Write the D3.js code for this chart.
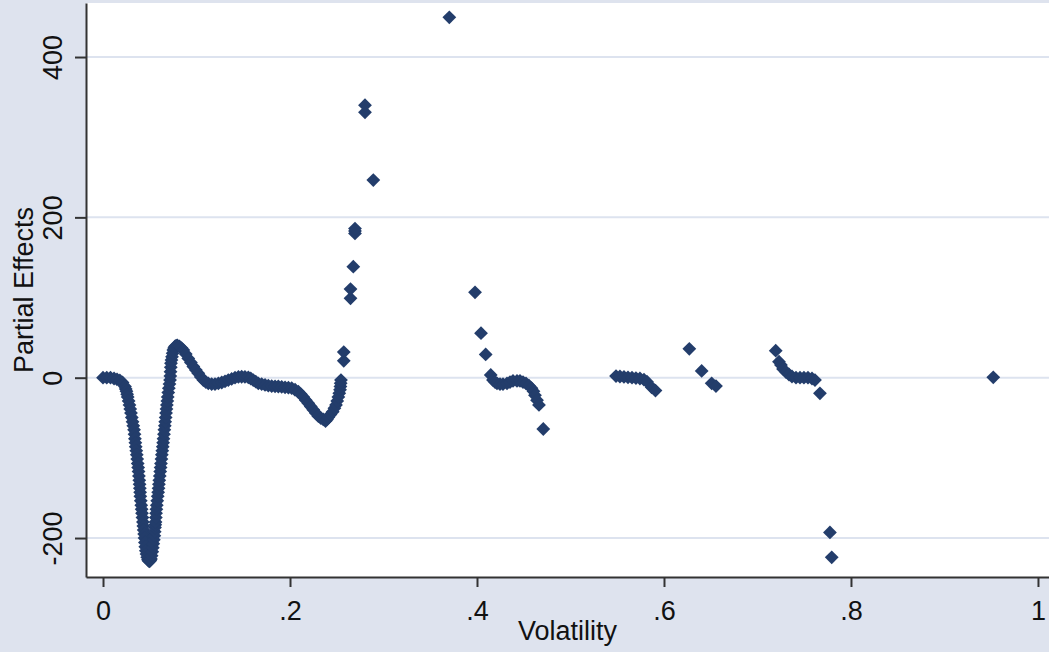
<!DOCTYPE html>
<html>
<head>
<meta charset="utf-8">
<script src="https://cdn.jsdelivr.net/npm/d3@7"></script>
<style>
  body { margin: 0; background: #dee3ee; }
  .chart text { font-family: "Liberation Sans", Arial, sans-serif; fill: #111; }
</style>
</head>
<body>
<div class="chart"></div>
<script>
var svgWidth = 1049;
var svgHeight = 652;

var margin = {
  top: 3,
  right: 0,
  bottom: 75,
  left: 86
};

var width = svgWidth - margin.left - margin.right;
var height = svgHeight - margin.top - margin.bottom;

// tick values / labels (Stata style, no leading zero)
var xTicks = [0, 0.2, 0.4, 0.6, 0.8, 1];
var xTickLabels = ["0", ".2", ".4", ".6", ".8", "1"];
var yTicks = [-200, 0, 200, 400];
var yTickLabels = ["-200", "0", "200", "400"];

// [volatility, partial effect] - the dense curve at low volatility
var lowVolCurve = [
  [0, 0], [0.004, 0], [0.008, 0], [0.0118, -1], [0.015, -2], [0.018, -3.5], [0.0209, -6],
  [0.0235, -11], [0.0243, -14], [0.0251, -17], [0.0258, -20.5], [0.0264, -24], [0.0274, -29],
  [0.0283, -34], [0.0291, -39], [0.0299, -44], [0.0308, -49.5], [0.0316, -55], [0.0324, -60],
  [0.0332, -65], [0.0337, -70.5], [0.0341, -76], [0.0346, -81], [0.035, -86], [0.0356, -91],
  [0.0361, -96], [0.0366, -101.5], [0.0371, -107], [0.0376, -112], [0.038, -117], [0.0384, -122.5],
  [0.0388, -128], [0.0391, -133], [0.0394, -138], [0.0397, -143], [0.0399, -148], [0.0404, -153.5],
  [0.0409, -159], [0.0413, -164], [0.0417, -169], [0.0422, -174.5], [0.0427, -180], [0.0431, -185],
  [0.0435, -190], [0.044, -195], [0.0444, -200], [0.0448, -205.5], [0.0452, -211], [0.0458, -216],
  [0.0465, -220], [0.0473, -224], [0.0481, -227], [0.0489, -228.5], [0.0497, -229], [0.0505, -228],
  [0.0513, -226], [0.052, -222], [0.0527, -217], [0.0533, -212], [0.0538, -207], [0.0544, -202],
  [0.0549, -197], [0.0553, -192], [0.0556, -187], [0.0559, -183.5], [0.0562, -180], [0.0565, -174.5],
  [0.0567, -169], [0.0571, -164], [0.0575, -159], [0.058, -153.5], [0.0585, -148], [0.059, -143],
  [0.0594, -138], [0.0598, -133], [0.0602, -128], [0.0607, -122.5], [0.0612, -117], [0.0616, -112],
  [0.062, -107], [0.0625, -101.5], [0.0629, -96], [0.0634, -91], [0.0639, -86], [0.0643, -81],
  [0.0647, -76], [0.0652, -70.5], [0.0656, -65], [0.0661, -60], [0.0665, -55], [0.067, -49.5],
  [0.0674, -44], [0.0679, -39], [0.0683, -34], [0.0688, -29], [0.0692, -24], [0.0698, -18.5],
  [0.0704, -13], [0.0711, -8], [0.0717, -3], [0.072, 2], [0.0722, 7.5], [0.0725, 13],
  [0.0727, 18], [0.0732, 22], [0.0738, 26], [0.0745, 30.5], [0.0752, 34.5], [0.0761, 37],
  [0.077, 39], [0.0782, 40], [0.0795, 40.4], [0.0818, 39], [0.084, 37], [0.0859, 34.5],
  [0.0885, 29.5], [0.0912, 24], [0.094, 19], [0.0966, 14], [0.0993, 9.5], [0.1019, 5.5],
  [0.1046, 1], [0.1073, -3], [0.11, -5.5], [0.1126, -7], [0.1162, -8], [0.1198, -8],
  [0.1234, -7], [0.127, -6], [0.1305, -4.5], [0.134, -3], [0.1376, -1.5], [0.1412, 0],
  [0.1448, 1], [0.1483, 1.2], [0.1518, 1], [0.1554, 0.5], [0.158, -1], [0.1607, -3],
  [0.1634, -5], [0.1661, -7], [0.1697, -8], [0.1733, -9], [0.1768, -10], [0.1804, -10.4],
  [0.184, -10.8], [0.1875, -11], [0.1911, -11.5], [0.1947, -12], [0.1983, -12.5], [0.2018, -13],
  [0.2054, -15], [0.2089, -17.5], [0.2116, -20.5], [0.2142, -24], [0.2169, -28], [0.2196, -32],
  [0.2222, -36], [0.2249, -40], [0.2276, -44], [0.2303, -48], [0.233, -50.5], [0.2356, -52],
  [0.238, -54], [0.2395, -52], [0.241, -49.4], [0.2433, -46], [0.2457, -42.4], [0.2475, -38],
  [0.2492, -34], [0.2505, -29], [0.2517, -24], [0.2527, -19.5], [0.2535, -15], [0.2539, -11],
  [0.2542, -7], [0.2545, -3]
];

// [volatility, partial effect] - sparser points above ~.25
var highVolPoints = [
  [0.2575, 21], [0.2575, 32], [0.2647, 99], [0.2647, 110.5], [0.2677, 138.5],
  [0.2695, 180], [0.2695, 183], [0.2695, 186], [0.2802, 331], [0.2802, 340], [0.2891, 246.5],
  [0.3704, 449.5], [0.3979, 106.5], [0.4043, 55.5], [0.4093, 29],
  [0.4147, 3.4], [0.4171, -3], [0.4193, -5.5], [0.4214, -7], [0.4246, -8], [0.4278, -8],
  [0.4321, -7], [0.4353, -5.5], [0.4385, -4], [0.4428, -4], [0.446, -4], [0.4492, -5.5],
  [0.4524, -7], [0.4556, -10], [0.4583, -13], [0.4604, -17], [0.462, -22], [0.4642, -28],
  [0.4663, -34], [0.4709, -64],
  [0.5487, 2], [0.5529, 1.5], [0.5572, 1], [0.5615, 0.5], [0.5658, 0], [0.57, -0.5],
  [0.5743, -1], [0.5786, -2.5], [0.5818, -5], [0.5868, -12], [0.5909, -16],
  [0.6271, 36], [0.6403, 8.4], [0.651, -7], [0.6556, -10.4],
  [0.7195, 33.7], [0.723, 20], [0.7251, 16], [0.7273, 11], [0.7305, 7], [0.7337, 4],
  [0.7369, 1.5], [0.7412, 0.2], [0.7455, 0], [0.7497, 0], [0.754, 0], [0.7583, -1],
  [0.7615, -3], [0.7668, -19.5], [0.7775, -193], [0.7794, -224],
  [0.9522, 0.5]
];

var allPoints = lowVolCurve.concat(highVolPoints);

var svg = d3.select(".chart")
  .append("svg")
  .attr("width", svgWidth)
  .attr("height", svgHeight);

svg.append("rect")
  .attr("width", svgWidth)
  .attr("height", svgHeight)
  .attr("fill", "#dee3ee");

var chartGroup = svg.append("g")
  .attr("transform", `translate(${margin.left}, ${margin.top})`);

chartGroup.append("rect")
  .attr("width", width)
  .attr("height", height)
  .attr("fill", "#ffffff");

// scales
var xLinearScale = d3.scaleLinear()
  .domain([-0.0182, 1.0118])
  .range([0, width]);

var yLinearScale = d3.scaleLinear()
  .domain([-248.6, 467.4])
  .range([height, 0]);

// gridlines
chartGroup.selectAll("line.grid")
  .data(yTicks)
  .join("line")
    .attr("class", "grid")
    .attr("x1", 0)
    .attr("x2", width)
    .attr("y1", d => yLinearScale(d))
    .attr("y2", d => yLinearScale(d))
    .attr("stroke", "#dde3ef")
    .attr("stroke-width", 2);

// diamond markers
var diamond = "M0,-6.9L6.9,0L0,6.9L-6.9,0Z";

chartGroup.append("g")
  .selectAll("path")
  .data(allPoints)
  .join("path")
    .attr("d", diamond)
    .attr("transform", d => `translate(${xLinearScale(d[0])},${yLinearScale(d[1])})`)
    .attr("fill", "#233d6b");

// axes
var bottomAxis = d3.axisBottom(xLinearScale)
  .tickValues(xTicks)
  .tickFormat((d, i) => xTickLabels[i])
  .tickSizeInner(10)
  .tickSizeOuter(0);

var leftAxis = d3.axisLeft(yLinearScale)
  .tickValues(yTicks)
  .tickFormat((d, i) => yTickLabels[i])
  .tickSizeInner(11)
  .tickSizeOuter(0);

var xAxisG = chartGroup.append("g")
  .attr("transform", `translate(0, ${height})`)
  .call(bottomAxis);

xAxisG.selectAll("text")
  .attr("y", 43)
  .attr("dy", null)
  .style("font-size", "27px");

var yAxisG = chartGroup.append("g")
  .call(leftAxis);

yAxisG.selectAll("text")
  .attr("x", 0)
  .attr("y", 0)
  .attr("dy", null)
  .attr("text-anchor", "middle")
  .attr("transform", "translate(-24,0) rotate(-90)")
  .style("font-size", "27px");

svg.selectAll(".domain, .tick line")
  .attr("stroke", "#333")
  .attr("stroke-width", 2);

// axis titles
svg.append("text")
  .attr("x", margin.left + width / 2)
  .attr("y", 640)
  .attr("text-anchor", "middle")
  .style("font-size", "27px")
  .text("Volatility");

svg.append("text")
  .attr("transform", `translate(33, ${margin.top + height / 2}) rotate(-90)`)
  .attr("text-anchor", "middle")
  .style("font-size", "27px")
  .text("Partial Effects");
</script>
</body>
</html>
